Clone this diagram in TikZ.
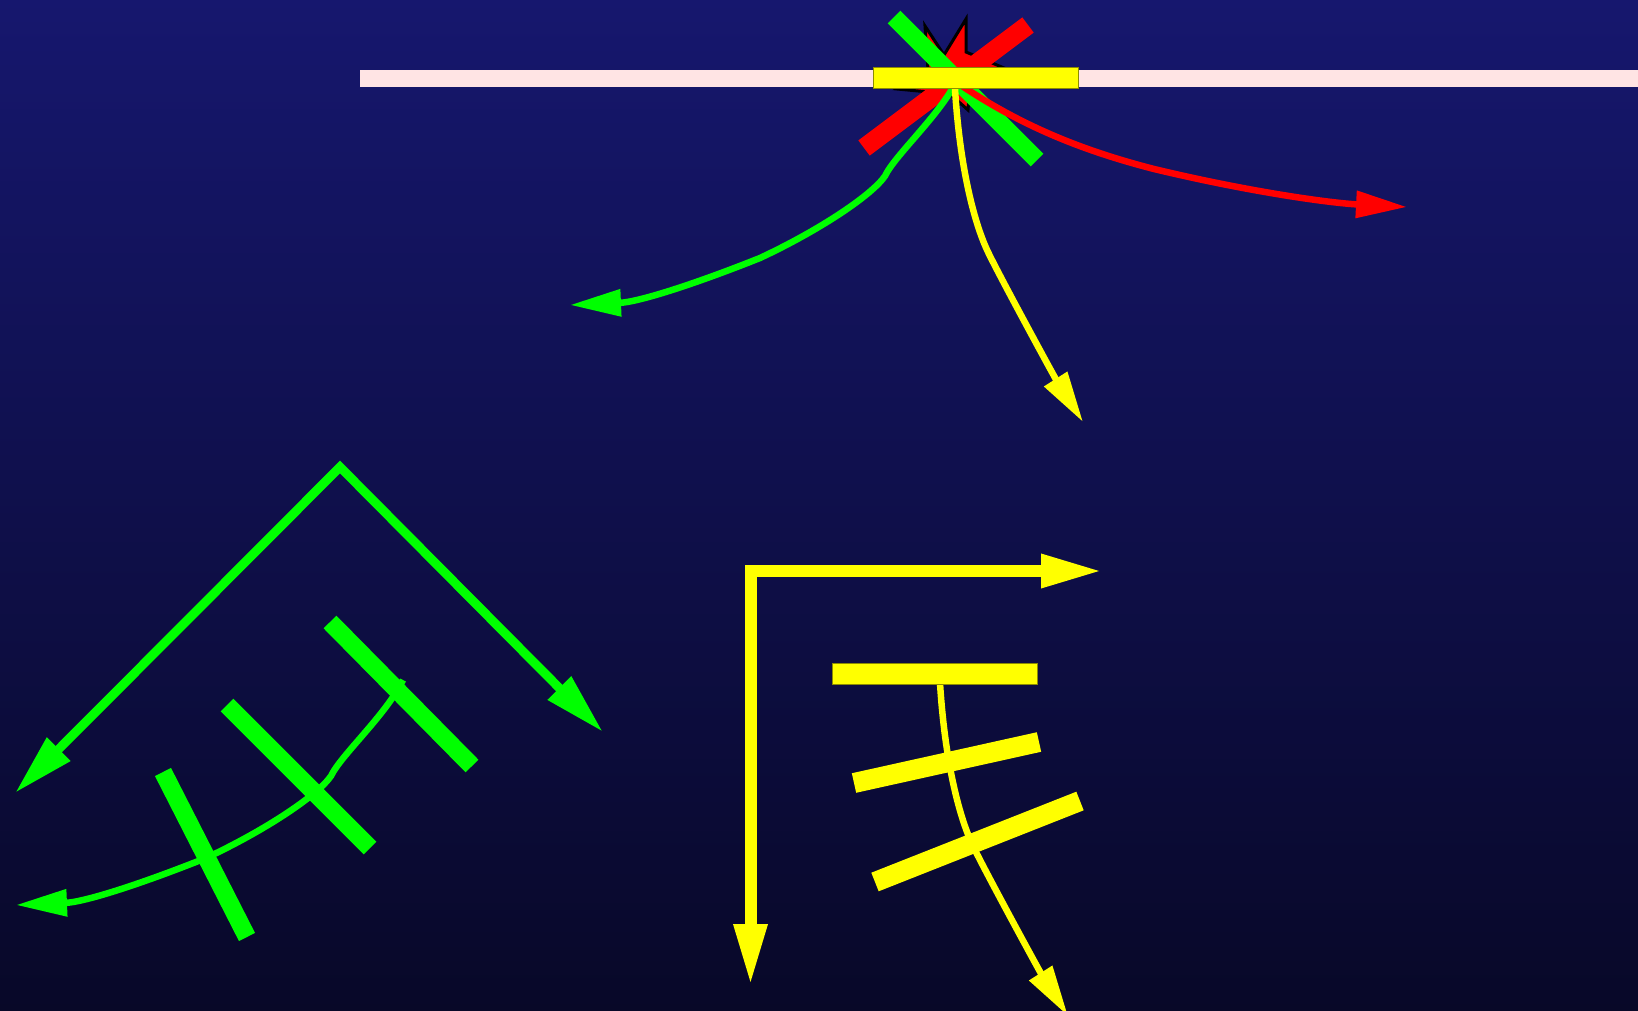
\documentclass[tikz,border=0pt]{standalone}
\usepackage{tikz}
\usetikzlibrary{arrows.meta}
\definecolor{bgtop}{RGB}{22,23,110}
\definecolor{bgbot}{RGB}{8,8,40}
\definecolor{skin}{RGB}{255,228,228}
\definecolor{ygl}{RGB}{255,255,0}
\definecolor{ggl}{RGB}{0,255,0}
\definecolor{rgl}{RGB}{255,0,0}
\tikzset{
  ray/.style={line width=6.5pt,-{Triangle[length=51pt,width=26pt]}},
  ax/.style={line width=#1,{Triangle[length=62pt,width=31pt]}-{Triangle[length=62pt,width=31pt]},line join=miter},
  pbar/.style={line width=19pt},
  plate/.style={fill=ygl,draw=ygl!55!black,line width=1pt},
  spark/.style={fill=rgl,draw=black,line width=3pt,line join=miter}
}
\newcommand{\vib}[5]{\draw[pbar,#1] (#2,#3) -- (#4,#5);}
\newcommand{\greenray}{\draw[ray,ggl] (957,80) .. controls (940,115) and (895,155) .. (885,176) .. controls (872,195) and (820,230) .. (760,258) .. controls (700,282) and (640,302) .. (570,305);}
\newcommand{\yellowray}{\draw[ray,ygl] (955,89) .. controls (960,170) and (975,225) .. (988,252) .. controls (1001,279) and (1055,378) .. (1083,422);}

\begin{document}
\begin{tikzpicture}[x=1pt,y=-1pt]
\useasboundingbox (0,0) rectangle (1638,1011);
\shade[top color=bgtop,bottom color=bgbot] (0,0) rectangle (1638,1011);
\draw[skin,line width=17pt] (360,78.5) -- (1638,78.5);
\draw[spark] (925,26) -- (944,55) -- (966,19) -- (966,52) -- (1004,68) -- (970,86) -- (968,110) -- (950,94) -- (897,89) -- (928,70) -- cycle;
\vib{rgl}{864}{148}{1028}{25}
\vib{ggl,line width=18pt}{894}{17}{1037}{160}
\greenray
\yellowray
\draw[ray,rgl] (959,84) .. controls (1020,125) and (1080,150) .. (1154,169) .. controls (1250,192) and (1330,203) .. (1407,207);
\draw[plate] (873,68) rectangle (1078,89);

\coordinate (apex) at (340,467);
\coordinate (ltip) at (15,793);
\coordinate (rtip) at (603,732);
\draw[ax=9pt,ggl] (ltip) -- (apex) -- (rtip);
\begin{scope}[shift={(-554,600)}]
\greenray
\end{scope}
\vib{ggl,line width=18pt}{330}{622}{472}{766}
\vib{ggl,line width=18pt}{227}{705}{370}{848}
\vib{ggl,line width=18pt}{163}{772}{247}{937}

\coordinate (corner) at (750.5,571);
\coordinate (dtip) at (750.5,986);
\coordinate (etip) at (1103,571);
\draw[ax=12pt,ygl] (dtip) -- (corner) -- (etip);
\begin{scope}[shift={(-15,594)}]
\yellowray
\end{scope}
\draw[plate] (832,663) rectangle (1037,684);
\vib{ygl,line width=20pt}{854}{783}{1039}{742}
\vib{ygl,line width=20pt}{875}{882}{1080}{801}
\end{tikzpicture}
\end{document}
